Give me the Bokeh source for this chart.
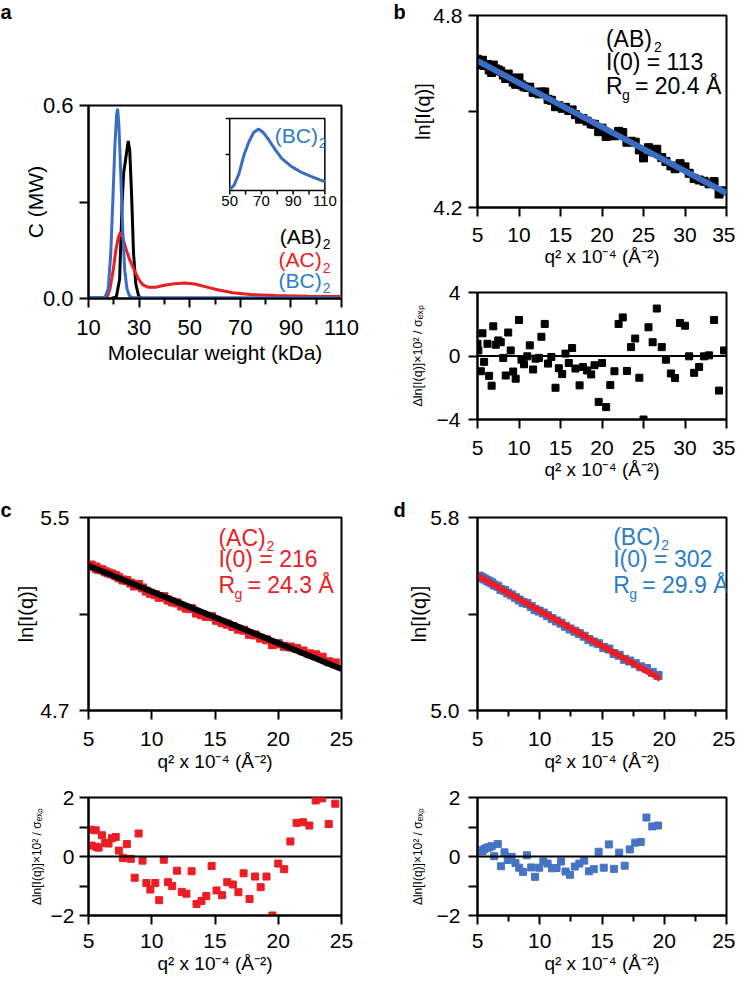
from bokeh.plotting import figure
from bokeh.layouts import row, column
from bokeh.models import FixedTicker, Range1d, Label, Span
from bokeh.embed import file_html
from bokeh.resources import INLINE
import math

FONT = "Liberation Sans"
RED = "#ec1d25"
BLUE = "#3b6cc1"
TBLUE = "#2a7dc7"
SQBLUE = "#4673c3"

# ---------------- panel a: molecular weight distributions ----------------
mw_ab = [19.0, 21.0, 22.3, 23.3, 23.9, 24.8, 25.7, 26.3, 27.0, 27.8, 28.7, 29.8, 31.0]
c_ab = [0.0, 0.005, 0.06, 0.30, 0.39, 0.44, 0.49, 0.46, 0.33, 0.14, 0.045, 0.008, 0.0]

mw_ac = [17.2, 18.5, 19.8, 20.8, 21.8, 22.6, 23.5, 24.8, 26.3, 28.0, 29.8, 31.5, 33.5,
         36.5, 40.0, 44.0, 48.0, 52.0, 56.0, 61.0, 67.0, 75.0, 84.0, 97.0, 110.0]
c_ac = [0.0, 0.03, 0.09, 0.15, 0.19, 0.205, 0.19, 0.155, 0.12, 0.09, 0.06, 0.042, 0.035,
        0.035, 0.041, 0.046, 0.048, 0.045, 0.037, 0.027, 0.018, 0.012, 0.009, 0.007, 0.006]

mw_bc = [10.0, 16.5, 17.8, 18.8, 19.6, 20.4, 21.1, 21.5, 22.0, 22.7, 23.5, 24.3, 25.2, 26.2, 27.5, 110.0]
c_bc = [0.003, 0.003, 0.03, 0.14, 0.30, 0.47, 0.57, 0.59, 0.54, 0.40, 0.22, 0.09, 0.03, 0.008, 0.002, 0.002]

inset_mw = [50.0, 52.7, 55.8, 58.9, 62.0, 65.1, 68.1, 71.2, 74.3, 78.5, 82.6, 88.8, 95.0, 101.2, 107.3, 110.0]
inset_c = [0.03, 0.14, 0.46, 0.97, 1.34, 1.61, 1.71, 1.61, 1.43, 1.15, 0.90, 0.67, 0.51, 0.39, 0.29, 0.25]
inset_xticks = [50, 60, 70, 80, 90, 100, 110]
inset_xlabels = ["50", "", "70", "", "90", "", "110"]
inset_yticks = [1, 2]

a_xticks = [10, 30, 50, 70, 90, 110]
a_xminor = [20, 40, 60, 80, 100]
a_yticks = [0.0, 0.3, 0.6]

# ---------------- panel b: (AB)2 Guinier ----------------
qb = [5.0, 5.1, 5.4, 5.6, 5.8, 6.2, 6.4, 6.7, 6.9, 7.2, 7.5, 7.8, 8.1, 8.4, 8.7, 9.0, 9.3, 9.6,
      10.0, 10.3, 10.6, 11.0, 11.3, 11.7, 12.0, 12.4, 12.7, 13.1, 13.5, 13.9, 14.4, 14.8, 15.2,
      15.6, 16.0, 16.4, 16.8, 17.3, 17.7, 18.2, 18.7, 19.1, 19.6, 20.0, 20.5, 21.0, 21.5, 22.0,
      22.5, 23.0, 23.5, 24.0, 24.5, 25.0, 25.6, 26.1, 26.6, 27.2, 27.7, 28.3, 28.8, 29.4, 30.0,
      30.5, 31.1, 31.7, 32.3, 32.9, 33.5, 34.1, 34.7]
lnb = [4.663, 4.659, 4.646, 4.660, 4.644, 4.647, 4.630, 4.622, 4.645, 4.633, 4.630, 4.626, 4.614,
       4.603, 4.617, 4.605, 4.592, 4.585, 4.605, 4.583, 4.577, 4.575, 4.576, 4.560, 4.560, 4.555,
       4.561, 4.561, 4.538, 4.535, 4.515, 4.518, 4.510, 4.513, 4.503, 4.505, 4.490, 4.476, 4.478,
       4.470, 4.461, 4.460, 4.437, 4.448, 4.422, 4.425, 4.424, 4.438, 4.434, 4.404, 4.407, 4.404,
       4.380, 4.355, 4.387, 4.374, 4.382, 4.356, 4.344, 4.330, 4.321, 4.337, 4.327, 4.307, 4.291,
       4.286, 4.282, 4.274, 4.281, 4.242, 4.252]
resb = [0.77, 0.35, -0.96, 1.43, -0.37, 0.77, -1.25, -1.87, 1.87, 0.71, 0.98, 0.87, -0.12, -1.23,
        1.48, 0.35, -0.98, -1.43, 2.27, -0.23, -0.52, -0.02, 0.67, -0.85, -0.17, -0.12, 1.21, 2.02,
        -0.48, -0.06, -2.0, -0.77, -1.14, 0.15, -0.44, 0.50, -0.79, -1.85, -0.69, -0.91, -1.16,
        -0.58, -2.89, -0.44, -3.22, -1.83, -0.96, 2.02, 2.43, -0.94, 0.56, 1.10, -1.37, -4.0, 1.81,
        0.87, 2.99, 0.56, -0.23, -1.10, -1.39, 2.08, 1.91, -0.02, -1.06, -0.69, -0.02, 0.04, 2.27,
        -2.18, 0.35]
fitb_q = [5.0, 35.0]
fitb_ln = [4.658, 4.245]

# ---------------- panel c: (AC)2 Guinier ----------------
qc = [5.2, 5.25, 5.57, 5.62, 5.8, 6.06, 6.32, 6.58, 6.84, 7.15, 7.4, 7.72, 8.03, 8.34, 8.65, 8.96,
      9.27, 9.58, 9.89, 10.28, 10.59, 10.95, 11.29, 11.62, 12.0, 12.37, 12.74, 13.15, 13.54, 13.93,
      14.31, 14.73, 15.12, 15.56, 15.97, 16.41, 16.85, 17.26, 17.73, 18.17, 18.61, 19.07, 19.54,
      20.0, 20.47, 20.96, 21.45, 21.95, 22.46, 22.96, 23.47, 23.99, 24.51]
lnc = [5.303, 5.298, 5.295, 5.289, 5.285, 5.283, 5.275, 5.270, 5.266, 5.259, 5.250, 5.241, 5.239,
       5.228, 5.216, 5.222, 5.208, 5.195, 5.186, 5.180, 5.169, 5.172, 5.158, 5.150, 5.146, 5.133,
       5.124, 5.122, 5.104, 5.097, 5.090, 5.089, 5.074, 5.064, 5.058, 5.048, 5.037, 5.033, 5.016,
       5.013, 5.000, 4.993, 4.973, 4.977, 4.966, 4.963, 4.957, 4.947, 4.935, 4.931, 4.921, 4.902,
       4.897]
resc = [0.91, 0.37, 0.89, 0.33, 0.30, 0.72, 0.46, 0.44, 0.62, 0.66, 0.20, -0.05, 0.42, -0.08, -0.72,
        0.78, -0.14, -0.90, -1.12, -0.90, -1.48, -0.11, -0.87, -1.0, -0.48, -1.2, -1.26, -0.50, -1.61,
        -1.51, -1.34, -0.32, -1.15, -1.31, -0.87, -0.95, -1.21, -0.57, -1.44, -0.68, -1.04, -0.68,
        -2.0, -0.24, -0.43, 0.51, 1.14, 1.16, 1.05, 1.90, 1.97, 1.10, 1.79]
fitc_q = [5.0, 25.0]
fitc_ln = [5.300, 4.872]

# ---------------- panel d: (BC)2 Guinier ----------------
qd = [5.13, 5.26, 5.41, 5.57, 5.77, 5.95, 6.14, 6.34, 6.63, 6.88, 7.17, 7.43, 7.74, 8.05, 8.35, 8.66,
      8.97, 9.31, 9.62, 9.95, 10.29, 10.63, 10.99, 11.35, 11.71, 12.07, 12.43, 12.82, 13.18, 13.57,
      13.95, 14.34, 14.73, 15.14, 15.55, 15.97, 16.38, 16.82, 17.23, 17.67, 18.11, 18.57, 19.04, 19.5]
lnd = [5.557, 5.553, 5.549, 5.545, 5.539, 5.534, 5.529, 5.520, 5.515, 5.502, 5.497, 5.487, 5.479,
       5.468, 5.458, 5.448, 5.444, 5.431, 5.419, 5.412, 5.404, 5.393, 5.381, 5.371, 5.362, 5.349,
       5.338, 5.329, 5.319, 5.308, 5.294, 5.284, 5.277, 5.261, 5.255, 5.236, 5.229, 5.212, 5.205,
       5.194, 5.181, 5.174, 5.158, 5.145]
resd = [0.18, 0.21, 0.18, 0.26, 0.30, 0.31, 0.35, 0.01, 0.42, -0.33, 0.14, -0.12, -0.01, -0.22,
        -0.38, -0.52, 0.04, -0.37, -0.69, -0.38, -0.17, -0.24, -0.40, -0.39, -0.17, -0.51, -0.62,
        -0.34, -0.24, -0.14, -0.50, -0.43, 0.16, -0.38, 0.41, -0.42, 0.13, -0.31, 0.24, 0.47, 0.49,
        1.32, 1.02, 1.05]
fitd_q = [5.0, 19.7]
fitd_ln = [5.559, 5.131]

panel_letters_left = ["a", "c"]
panel_letters_right = ["b", "d"]

XLAB = "q\u00b2 x 10\u207b\u2074 (\u00c5\u207b\u00b2)"
RESLAB = "\u0394ln[I(q)]\u00d710\u00b2 / \u03c3\u2091\u2093\u209a"


def mkfig(xr, yr, w, h, left, right, top, bottom):
    p = figure(x_range=Range1d(*xr), y_range=Range1d(*yr), width=w, height=h,
               min_border_left=left, min_border_right=right, min_border_top=top,
               min_border_bottom=bottom, output_backend="svg", toolbar_location=None, title=None)
    p.grid.visible = False
    p.outline_line_color = "black"
    p.outline_line_width = 2
    p.outline_line_alpha = 1
    p.background_fill_color = "white"
    p.border_fill_color = "white"
    for ax in (p.xaxis[0], p.yaxis[0]):
        ax.axis_line_width = 2
        ax.major_tick_line_width = 2
        ax.major_tick_out = 9
        ax.major_tick_in = 0
        ax.minor_tick_line_width = 2
        ax.minor_tick_out = 6
        ax.minor_tick_in = 0
        ax.major_label_text_font = FONT
        ax.major_label_text_font_size = "21px"
        ax.major_label_text_color = "black"
        ax.axis_label_text_font = FONT
        ax.axis_label_text_font_size = "19px"
        ax.axis_label_text_font_style = "normal"
        ax.axis_label_text_color = "black"
    return p


def letter_fig(w, h, letters, xs, ys):
    p = figure(x_range=Range1d(0, w), y_range=Range1d(h, 0), width=w, height=h,
               min_border=0, x_axis_type=None, y_axis_type=None, output_backend="svg",
               toolbar_location=None, title=None)
    p.grid.visible = False
    p.outline_line_color = None
    p.background_fill_color = "white"
    p.border_fill_color = "white"
    for s, x, y in zip(letters, xs, ys):
        p.add_layout(Label(x=x, y=y, text=s, text_font=FONT, text_font_size="20px",
                           text_font_style="bold", text_align="left", text_baseline="middle",
                           text_color="black"))
    return p


def txt(p, x, y, s, size, color, align="left", xo=0, yo=0, xr="default", yr="default"):
    p.add_layout(Label(x=x, y=y, text=s, x_offset=xo, y_offset=yo, text_font=FONT,
                       text_font_size=f"{size}px", text_color=color, text_align=align,
                       text_baseline="middle", x_range_name=xr, y_range_name=yr))


def ticks(ax, major, minor=None, overrides=None):
    ax.ticker = FixedTicker(ticks=major, minor_ticks=minor or [])
    if overrides:
        ax.major_label_overrides = overrides


def annot(p, x, ys, name, i0, rg, color):
    txt(p, x, ys[0], name, 23, color)
    txt(p, x, ys[0], "2", 14, color, xo=48, yo=-8)
    txt(p, x, ys[1], i0, 23, color)
    txt(p, x, ys[2], "R", 23, color)
    txt(p, x, ys[2], "g", 14, color, xo=16, yo=-9)
    txt(p, x, ys[2], rg, 23, color, xo=29)


def xstand(p, s1, s2):
    p.xaxis[0].major_label_standoff = s1
    p.xaxis[0].axis_label_standoff = s2


# ---------------- figure a ----------------
fa = mkfig((10, 110), (0, 0.6), 349, 492, 73, 18, 105, 194)
ticks(fa.xaxis[0], a_xticks, a_xminor)
ticks(fa.yaxis[0], a_yticks, None, {0.0: "0.0", 0.3: "", 0.6: "0.6"})
for ax in (fa.xaxis[0], fa.yaxis[0]):
    ax.major_label_text_font_size = "22px"
    ax.axis_label_text_font_size = "21px"
fa.xaxis[0].axis_label = "Molecular weight (kDa)"
fa.yaxis[0].axis_label = "C (MW)"
xstand(fa, 12, 3)
fa.yaxis[0].major_label_standoff = 6
fa.yaxis[0].axis_label_standoff = -7
fa.line(mw_ab, c_ab, line_color="black", line_width=3)
fa.line(mw_ac, c_ac, line_color=RED, line_width=3)
fa.line(mw_bc, c_bc, line_color=BLUE, line_width=3)
# inset drawn on its own ranges
fa.extra_x_ranges = {"ix": Range1d(-39.06, 120.51)}
fa.extra_y_ranges = {"iy": Range1d(-3.0, 2.361)}
fa.quad(left=[50], right=[110], bottom=[0], top=[2], fill_color="white", line_color="black",
        line_width=1.5, x_range_name="ix", y_range_name="iy")
fa.ray(x=inset_xticks, y=[0] * len(inset_xticks), length=4, length_units="screen",
       angle=-math.pi / 2, line_color="black", line_width=1.5, x_range_name="ix", y_range_name="iy")
fa.ray(x=[50] * len(inset_yticks), y=inset_yticks, length=4, length_units="screen",
       angle=math.pi, line_color="black", line_width=1.5, x_range_name="ix", y_range_name="iy")
fa.text(x=inset_xticks, y=[0] * len(inset_xticks), text=inset_xlabels, y_offset=6,
        text_align="center", text_baseline="top", text_font={"value": FONT},
        text_font_size={"value": "15px"}, text_color="black", x_range_name="ix", y_range_name="iy")
fa.line(inset_mw, inset_c, line_color=BLUE, line_width=3, x_range_name="ix", y_range_name="iy")
txt(fa, 78.4, 1.53, "(BC)", 21, TBLUE, xr="ix", yr="iy")
txt(fa, 78.4, 1.53, "2", 14, TBLUE, xo=44, yo=-8, xr="ix", yr="iy")
for yy, name, col in [(0.193, "(AB)", "black"), (0.121, "(AC)", RED), (0.056, "(BC)", TBLUE)]:
    txt(fa, 102.2, yy, name, 21, col, align="right")
    txt(fa, 102.2, yy, "2", 14, col, xo=1, yo=-8)

# ---------------- figure c top ----------------
fct = mkfig((5, 25), (4.7, 5.5), 349, 292, 72, 20, 25, 74)
ticks(fct.xaxis[0], [5, 10, 15, 20, 25])
ticks(fct.yaxis[0], [4.7, 5.1, 5.5], None, {4.7: "4.7", 5.1: "", 5.5: "5.5"})
fct.xaxis[0].axis_label = XLAB
fct.yaxis[0].axis_label = "ln[I(q)]"
fct.yaxis[0].axis_label_text_font_size = "20px"
xstand(fct, 12, 2)
fct.yaxis[0].major_label_standoff = 10
fct.yaxis[0].axis_label_standoff = 0
fct.scatter(qc, lnc, marker="square", size=8, color=RED)
fct.line(fitc_q, fitc_ln, line_color="black", line_width=6)
annot(fct, 15.27, [5.417, 5.326, 5.220], "(AC)", "I(0) = 216", "= 24.3 \u00c5", RED)

# ---------------- figure c residuals ----------------
fcr = mkfig((5, 25), (-2, 2), 349, 202, 72, 20, 13, 71)
ticks(fcr.xaxis[0], [5, 10, 15, 20, 25])
ticks(fcr.yaxis[0], [-2, -1, 0, 1, 2], None, {-1: "", 1: ""})
fcr.xaxis[0].axis_label = XLAB
fcr.yaxis[0].axis_label = RESLAB
fcr.yaxis[0].axis_label_text_font_size = "12px"
xstand(fcr, 9, 2)
fcr.yaxis[0].major_label_standoff = 5
fcr.yaxis[0].axis_label_standoff = 4
fcr.add_layout(Span(location=0, dimension="width", line_color="black", line_width=2))
fcr.scatter(qc, resc, marker="square", size=7, color=RED)

# ---------------- figure b top ----------------
fbt = mkfig((5, 35), (4.2, 4.8), 330, 279, 67, 9, 15, 72)
ticks(fbt.xaxis[0], [5, 10, 15, 20, 25, 30, 35])
ticks(fbt.yaxis[0], [4.2, 4.5, 4.8], None, {4.2: "4.2", 4.5: "", 4.8: "4.8"})
fbt.xaxis[0].axis_label = XLAB
fbt.yaxis[0].axis_label = "ln[I(q)]"
fbt.yaxis[0].axis_label_text_font_size = "20px"
xstand(fbt, 11, 1)
fbt.yaxis[0].major_label_standoff = 6
fbt.yaxis[0].axis_label_standoff = -4
fbt.scatter(qb, lnb, marker="square", size=8, color="black")
fbt.line(fitb_q, fitb_ln, line_color=BLUE, line_width=6)
annot(fbt, 20.47, [4.727, 4.656, 4.579], "(AB)", "I(0) = 113", "= 20.4 \u00c5", "black")

# ---------------- figure b residuals ----------------
fbr = mkfig((5, 35), (-4, 4), 330, 213, 67, 9, 13, 73)
ticks(fbr.xaxis[0], [5, 10, 15, 20, 25, 30, 35])
ticks(fbr.yaxis[0], [-4, 0, 4])
fbr.xaxis[0].axis_label = XLAB
fbr.yaxis[0].axis_label = RESLAB
fbr.yaxis[0].axis_label_text_font_size = "12.5px"
xstand(fbr, 12, 1)
fbr.yaxis[0].major_label_standoff = 8
fbr.yaxis[0].axis_label_standoff = 9
fbr.add_layout(Span(location=0, dimension="width", line_color="black", line_width=2))
fbr.scatter(qb, resb, marker="square", size=7, color="black")

# ---------------- figure d top ----------------
fdt = mkfig((5, 25), (5.0, 5.8), 330, 292, 67, 9, 25, 74)
ticks(fdt.xaxis[0], [5, 10, 15, 20, 25], [7.5, 12.5, 17.5, 22.5])
ticks(fdt.yaxis[0], [5.0, 5.4, 5.8], None, {5.0: "5.0", 5.4: "", 5.8: "5.8"})
fdt.xaxis[0].axis_label = XLAB
fdt.yaxis[0].axis_label = "ln[I(q)]"
fdt.yaxis[0].axis_label_text_font_size = "20px"
xstand(fdt, 12, 2)
fdt.yaxis[0].major_label_standoff = 9
fdt.yaxis[0].axis_label_standoff = -3
fdt.scatter(qd, lnd, marker="square", size=8, color=SQBLUE)
fdt.line(fitd_q, fitd_ln, line_color=RED, line_width=6)
annot(fdt, 15.9, [5.721, 5.626, 5.522], "(BC)", "I(0) = 302", "= 29.9 \u00c5", TBLUE)

# ---------------- figure d residuals ----------------
fdr = mkfig((5, 25), (-2, 2), 330, 202, 67, 9, 13, 71)
ticks(fdr.xaxis[0], [5, 10, 15, 20, 25], [7.5, 12.5, 17.5, 22.5])
ticks(fdr.yaxis[0], [-2, -1, 0, 1, 2], None, {-1: "", 1: ""})
fdr.xaxis[0].axis_label = XLAB
fdr.yaxis[0].axis_label = RESLAB
fdr.yaxis[0].axis_label_text_font_size = "12px"
xstand(fdr, 9, 2)
fdr.yaxis[0].major_label_standoff = 8
fdr.yaxis[0].axis_label_standoff = 9
fdr.add_layout(Span(location=0, dimension="width", line_color="black", line_width=2))
fdr.scatter(qd, resd, marker="square", size=7, color=SQBLUE)

# ---------------- panel letters ----------------
la = letter_fig(12, 986, panel_letters_left, [0, 0], [11, 509])
lb = letter_fig(44, 986, panel_letters_right, [32, 32], [11, 509])

layout = row(la, column(fa, fct, fcr), lb, column(fbt, fbr, fdt, fdr))

with open("out.html", "w") as f:
    f.write(file_html(layout, INLINE))
